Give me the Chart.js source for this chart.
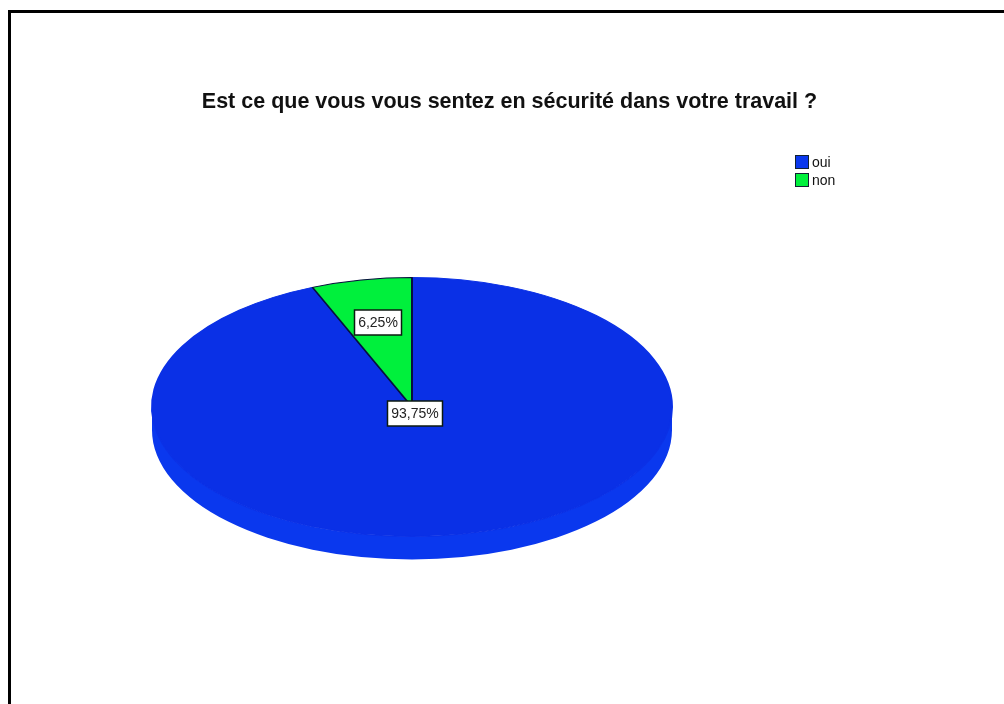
<!DOCTYPE html>
<html lang="fr">
<head>
<meta charset="utf-8">
<title>Sécurité au travail</title>
<script src="https://cdn.jsdelivr.net/npm/chart.js@4/dist/chart.umd.min.js"></script>
<style>
    html, body { margin: 0; padding: 0; background: #fff; }
    body { width: 1004px; height: 704px; position: relative; overflow: hidden; font-family: "Liberation Sans", Arial, sans-serif; color: #111; }
    canvas { position: absolute; left: 0; top: 0; }
    #frame { position: absolute; left: 8px; top: 10px; width: 1000px; height: 700px; border: 3px solid #000; border-right: 0; border-bottom: 0; }
    #title { position: absolute; left: 0; top: 89px; width: 1019px; text-align: center; font-size: 21.5px; font-weight: bold; line-height: 24px; }
    #legend { position: absolute; left: 795px; top: 153px; font-size: 14px; line-height: 18px; }
    #legend div { display: flex; align-items: center; height: 18px; }
    #legend span { width: 12px; height: 12px; border: 1px solid #123; margin-right: 3px; }
</style>
</head>
<body>
<canvas id="pie-chart" width="1004" height="704"></canvas>
<div id="frame"></div>
<div id="title">Est ce que vous vous sentez en sécurité dans votre travail ?</div>
<div id="legend"></div>
<script>
const categories = ['oui', 'non'];
const percents = [93.75, 6.25];
const sliceColors = ['#0a30e6', '#00f03c'];
const rimColor = '#0a38ee';

// the pie is squashed vertically to look tilted, with a rim below it
const squash = 130 / 261;
const rimDepth = 23;
// how far along the radius each boxed label sits
const labelReach = [0.05, 0.667];

const tiltPlugin = {
    id: 'tilt',
    beforeDatasetsDraw(chart) {
        const ctx = chart.ctx;
        const arc = chart.getDatasetMeta(0).data[0];
        const ry = arc.outerRadius * squash;

        ctx.save();
        ctx.fillStyle = rimColor;
        ctx.beginPath();
        ctx.ellipse(arc.x, arc.y + rimDepth, arc.outerRadius, ry, 0, 0, Math.PI);
        ctx.ellipse(arc.x, arc.y, arc.outerRadius, ry, 0, Math.PI, 0, true);
        ctx.closePath();
        ctx.fill();
        ctx.restore();

        ctx.save();
        ctx.translate(arc.x, arc.y);
        ctx.scale(1, squash);
        ctx.translate(-arc.x, -arc.y);
    },
    afterDatasetsDraw(chart) {
        const ctx = chart.ctx;
        ctx.restore();

        ctx.font = '14px "Liberation Sans", Arial, sans-serif';
        ctx.textAlign = 'center';
        ctx.textBaseline = 'middle';
        chart.getDatasetMeta(0).data.forEach((arc, i) => {
            const mid = (arc.startAngle + arc.endAngle) / 2;
            const r = arc.outerRadius * labelReach[i];
            const x = Math.round(arc.x + Math.cos(mid) * r);
            const y = Math.round(arc.y + Math.sin(mid) * r * squash);
            const text = percents[i].toFixed(2).replace('.', ',') + '%';
            const w = Math.ceil(ctx.measureText(text).width) + 7;
            ctx.fillStyle = '#fff';
            ctx.strokeStyle = '#0c1a10';
            ctx.lineWidth = 1.5;
            ctx.fillRect(x - w / 2, y - 12, w, 25);
            ctx.strokeRect(x - w / 2, y - 12, w, 25);
            ctx.fillStyle = '#222';
            ctx.fillText(text, x, y + 1);
        });
    }
};

new Chart(document.getElementById('pie-chart').getContext('2d'), {
    type: 'pie',
    data: {
        labels: categories,
        datasets: [{
            data: percents,
            backgroundColor: sliceColors,
            // only the small slice gets a dark edge
            borderColor: [sliceColors[0], '#06103c'],
            borderWidth: 2
        }]
    },
    options: {
        responsive: false,
        animation: false,
        layout: { padding: { left: 151, right: 331, top: 146, bottom: 36 } },
        plugins: { legend: { display: false }, title: { display: false }, tooltip: { enabled: false } }
    },
    plugins: [tiltPlugin]
});

const legendBox = document.getElementById('legend');
categories.forEach((name, i) => {
    const row = document.createElement('div');
    const swatch = document.createElement('span');
    swatch.style.background = i === 0 ? rimColor : sliceColors[i];
    row.appendChild(swatch);
    row.appendChild(document.createTextNode(name));
    legendBox.appendChild(row);
});
</script>
</body>
</html>
